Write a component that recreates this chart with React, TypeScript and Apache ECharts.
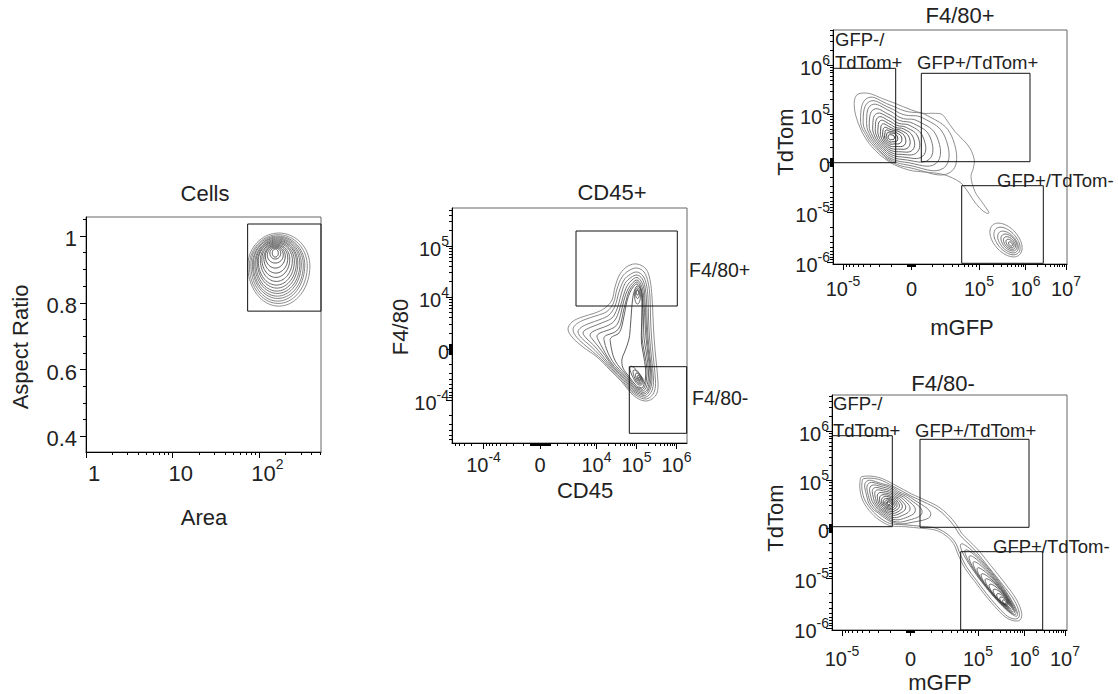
import React, { useEffect, useRef } from 'react';
import * as echarts from 'echarts';

const FONT = '"Liberation Sans", Arial, Helvetica, sans-serif';

// ---------------- Panel 1: Cells (x = log10 Area, y = Aspect Ratio) ----------------
const cellsXRange = [0, 2.71];
const cellsYRange = [0.353, 1.057];
const cellsXTicks = [0, 1, 2];
const cellsXTickLabels = [['1', ''], ['10', ''], ['10', '2']];
const cellsXDecades = [[0, 1], [1, 2], [2, 3]];
const cellsYTicks = [0.4, 0.6, 0.8, 1.0];
const cellsYTickLabels = [['0.4', ''], ['0.6', ''], ['0.8', ''], ['1', '']];
const cellsYMinorTicks = [0.45, 0.5, 0.55, 0.65, 0.7, 0.75, 0.85, 0.9, 0.95, 1.05];
const cellsGates = [[1.864, 0.775, 2.71, 1.036]];
// contour rings: [cx, cy, halfRight, halfLeft, halfUp, halfDown, angleDeg]
const cellsContours = [
  [2.224, 0.910, 0.358, 0.358, 0.099, 0.120, 0],
  [2.218, 0.910, 0.334, 0.334, 0.094, 0.112, 0],
  [2.212, 0.913, 0.311, 0.311, 0.087, 0.108, 0],
  [2.212, 0.913, 0.294, 0.294, 0.084, 0.100, 0],
  [2.206, 0.916, 0.277, 0.277, 0.078, 0.096, 0],
  [2.206, 0.916, 0.260, 0.260, 0.075, 0.088, 0],
  [2.201, 0.919, 0.242, 0.242, 0.069, 0.084, 0],
  [2.201, 0.922, 0.225, 0.225, 0.063, 0.078, 0],
  [2.195, 0.925, 0.208, 0.208, 0.057, 0.072, 0],
  [2.195, 0.928, 0.185, 0.185, 0.051, 0.064, 0],
  [2.189, 0.931, 0.161, 0.161, 0.045, 0.055, 0],
  [2.189, 0.934, 0.138, 0.138, 0.039, 0.045, 0],
  [2.183, 0.940, 0.115, 0.115, 0.030, 0.036, 0],
  [2.183, 0.943, 0.092, 0.092, 0.024, 0.024, 0],
  [2.183, 0.949, 0.063, 0.063, 0.015, 0.018, 0],
  [2.183, 0.949, 0.035, 0.035, 0.012, 0.012, 0],
];

// ---------------- Panel 2: CD45+ (display channels) ----------------
const cd45XRange = [0, 235];
const cd45YRange = [0, 235];
const cd45XTicks = [31.5, 88, 144.5, 184.5, 224.5];
const cd45XTickLabels = [['10', '-4'], ['0', ''], ['10', '4'], ['10', '5'], ['10', '6']];
const cd45XDecades = [[88, 31.5], [31.5, -9], [88, 144.5], [144.5, 184.5], [184.5, 224.5], [224.5, 264.5]];
const cd45XZero = [88, 10];
const cd45YTicks = [43, 94, 146, 197];
const cd45YTickLabels = [['10', '-4'], ['0', ''], ['10', '4'], ['10', '5']];
const cd45YDecades = [[94, 43], [43, -8], [94, 146], [146, 197], [197, 248]];
const cd45YZero = [94, 5];
const cd45Gates = [[124, 137, 225.3, 212], [177.3, 9.7, 234.7, 76.3]];
const cd45GateLabels = ['F4/80+', 'F4/80-'];
const cd45GateLabelPos = [[237, 173], [240, 45.5]];
const cd45Rings = [
  [[185,179],[194,174],[198,163],[200,146],[201,126],[202,106],[204,83],[206,61],[205,50],[200,44],[193,42],[185,45],[178,51],[170,61],[158,73],[145,86],[131,96],[120,106],[116,114],[120,121],[130,126],[143,130],[153,135],[160,143],[163,156],[168,169],[176,177]],
  [[185,175],[192,171],[196,161],[198,146],[198.5,126],[199.5,106],[201.5,84],[203.5,62],[202.5,52],[198.5,46],[193,44],[186,46.5],[178.8,51.7],[170.8,61.7],[158.8,73.7],[146.5,86.5],[134,97],[124.5,106],[121,113.5],[124.5,119],[133,123.5],[145,127.5],[155,131.5],[161.5,140],[165,154],[170,166],[177,172.5]],
  [[185,171],[191,167],[194.5,158],[196,145],[196.5,126],[197.5,106],[199.5,85],[201.5,64],[200.5,54],[197,48],[193,45.8],[186.8,47.8],[179.7,52.4],[171.7,62.4],[159.7,74.4],[148,87.5],[138,97.5],[129.5,105],[126,111],[129,115.5],[137,119.5],[148,123.5],[157,128],[163,137],[167,151],[172,163],[178,168.5]],
  [[185,168],[190,164.5],[193,156],[194.5,143],[195,126],[196,106],[198,86],[200,66],[199,56],[196,49.8],[192.5,47.5],[187.5,49],[180.5,53.2],[172.5,63.2],[160.5,75.2],[150,88],[141.5,98],[135,104],[131,110],[134,113.5],[142,117],[152,121],[160,125],[165,134],[169,148],[173,159.5],[179,165.5]],
  [[185,165.5],[189,162],[192,154],[193,141],[194,124],[195,106],[197,87],[199,68],[198,58],[195.5,51.5],[192,49],[188,50.2],[181.3,53.9],[173.3,63.9],[161.3,75.9],[153,87.5],[146,97],[141,103],[138,108],[141,111.5],[148,114.5],[157,118],[163,123],[167,132],[171,146],[175,157],[180,163]],
  [[185,163],[188.5,159.5],[191,152],[192,139],[193,122],[194,105],[196,88],[198,70],[197,60],[195,53],[191.5,50.5],[188.5,51.5],[182.2,54.6],[174.2,64.6],[162.2,76.6],[155.5,86],[150.5,95],[147,101.5],[145,107],[148,110],[155,112.5],[162,115.5],[166,120],[169,130],[172,143],[176,154],[181,160.5]],
  [[185,161],[188,157.5],[190,150],[191,137],[191.5,121],[192,105],[194.5,89],[196.5,72],[196,62],[194,55],[191,52],[188.5,53],[183,55.3],[175,65.3],[163.5,77.5],[158,86],[154.5,94],[152.5,101],[152,105.5],[155,108],[161,110],[166,113.5],[169,120],[171,130],[174,142],[177,152],[181.5,158.5]],
  [[185,159],[188,155.5],[189.5,148],[190,135],[190,120],[190,105],[192.5,90],[195,74],[194.5,64],[193,57],[190.5,53.5],[188.5,54.5],[183.8,56],[176,66],[165.5,78.5],[161.5,86],[159.5,94],[158.5,100],[158.5,104.5],[161.5,107],[166,109],[169,114],[171,122],[173,132],[175,142],[178,150.5],[181.5,156.5]],
  [[185,157],[188.5,154],[190,149],[190.5,140],[190,128],[189.5,115],[189.5,100],[191.5,88],[193.5,75],[193.5,65],[192,58.5],[190,55],[188.5,55.5],[184.7,56.8],[177.5,66],[171,75],[170,84],[173,92],[177,104],[178.5,118],[179.5,132],[180.5,143],[182,151]],
];
const cd45UpperPeak = [
  [185.5, 148, 7, 9, 3, 3, 90],
  [185.5, 149.5, 4, 5, 2, 2, 90],
  [185.5, 150.5, 2, 2.5, 1.1, 1.1, 90],
];
const cd45LowerPeak = [
  [187, 63, 5.5, 16, 4, 4, -58],
  [187.2, 63.3, 4.3, 11, 3.2, 3.2, -60],
  [187.4, 63.6, 3.2, 7, 2.4, 2.4, -62],
  [187.5, 63.8, 2, 4, 1.5, 1.5, -65],
  [187.5, 64, 1, 1.8, 0.8, 0.8, -65],
];

// ---------------- Panels 3 & 4: mGFP vs TdTom (display channels) ----------------
const gfpXTicks = [10, 78.5, 146, 192.5, 233];
const gfpXTickLabels = [['10', '-5'], ['0', ''], ['10', '5'], ['10', '6'], ['10', '7']];
const gfpXDecades = [[78.5, 10], [10, -58.5], [78.5, 146], [146, 192.5], [192.5, 233], [233, 273.5]];
const gfpXZero = [78.5, 4];
const tomYTicks = [2, 51.5, 102, 149.5, 199];
const tomYTickLabels = [['10', '-6'], ['10', '-5'], ['0', ''], ['10', '5'], ['10', '6']];
const tomYDecades = [[102, 51.5], [51.5, 2], [2, -47.5], [102, 149.5], [149.5, 199], [199, 248.5]];
const tomYZero = [102, 4];
const gateLabels = ['GFP-/', 'TdTom+', 'GFP+/TdTom+', 'GFP+/TdTom-'];

// Panel 3: F4/80+
const f480posRange = [0, 234];
const f480posGates = [[0.3, 101.3, 62.7, 195.7], [88.3, 102.3, 197, 190.7], [128.7, 0.7, 210.3, 78.3]];
const f480posGateLabelPos = [[2, 225], [2, 202], [84, 202], [164, 84]];
const f480posOuter = [
  [[23.7,169],[35.3,170.7],[48.7,165.7],[62,160.7],[78.7,154],[90.3,150.7],[100.3,150.7],[108.7,149.7],[113.7,144],[122,132.3],[130.3,124],[137,115.7],[141.3,104],[140.3,95.7],[138,87.3],[142,72.3],[148.7,62.3],[156,51.3],[153.7,50.7],[147,55.7],[140.3,64],[133.7,74],[127,81.7],[112,89],[95.3,91.7],[80.3,93],[70.3,95.7],[58.7,100.7],[45.3,110.7],[33.7,124],[25.3,140.7],[21.3,157.3]],
];
const f480posCoreCenter = [57, 127];
// ring radii at 0°, 30°, ... 330°
const f480posCore = [
  [62, 43, 30, 32, 45, 34, 23, 18.5, 18.5, 24, 35, 70],
  [55, 38, 26, 29, 41, 31, 21, 17, 17.5, 22.5, 32, 62],
  [47, 32, 22, 26, 37, 27, 19, 15.5, 16, 21, 29, 53],
  [40, 27, 19, 22, 32, 24, 17, 14, 14.5, 19, 26, 45],
  [33, 23, 16, 19, 27, 20, 15, 12.5, 13, 17, 23, 38],
  [28, 19, 13.5, 15.7, 23, 17, 13, 11, 11.5, 15, 20, 31],
  [23, 16, 11, 12.7, 19, 14, 11, 9.5, 10, 13, 17, 26],
  [19, 13, 9, 10, 15, 11, 9, 8, 8.5, 11, 14, 21],
  [15, 10.5, 7.5, 7.7, 11, 8.5, 7, 6.5, 7, 9, 11, 16.5],
  [11.5, 8, 6, 5.7, 8, 6, 5.5, 5, 5.5, 7, 8, 12],
  [7.5, 6, 4.5, 4, 5, 4, 4, 3.5, 4, 5, 5.5, 8],
  [4.5, 3.5, 2.5, 2.3, 2.4, 2, 2, 2, 2, 3, 3, 4.5],
];
const f480posGfpBlob = [
  [173, 24, 20, 20, 12, 12, -48],
  [174, 23, 16.5, 16.5, 9.5, 9.5, -48],
  [175, 22, 13, 13, 7.5, 7.5, -48],
  [176, 21.5, 10, 10, 6, 6, -48],
  [176.5, 21, 7.5, 7.5, 4.5, 4.5, -48],
  [177, 20.5, 5, 5, 3, 3, -48],
  [177.5, 20, 2.5, 2.5, 1.5, 1.5, -48],
];

// Panel 4: F4/80-
const f480negRange = [0, 235];
const f480negGates = [[0.3, 103.3, 60.3, 194.3], [88, 102.7, 197, 190.7], [128.7, 0, 210.7, 78.3]];
const f480negGateLabelPos = [[1, 226.7], [1, 200], [83, 200], [161, 83.3]];
const f480negOuter = [
  [[29.7,153.3],[46.3,152.7],[63,145],[79.7,136],[93,130],[106.3,123.3],[116.3,115],[124.7,105],[129.7,96.7],[136.3,90],[146.3,80],[159.7,63.3],[173,46.7],[184.7,30],[189.7,16.7],[188,10],[181.3,9.3],[173,13.3],[163,23.3],[153,35],[143,48.3],[133,61.7],[126.3,75],[121.3,86.7],[113,95],[103,100],[89.7,101.7],[73,103.3],[59.7,104],[49.7,108.3],[39.7,116.7],[31.3,128.3],[28,140],[28,148.3]],
  [[31.5,151.3],[46.5,150.7],[62.5,143],[79,134],[92,128],[105,121.2],[114.5,113],[122.5,103.5],[127.5,95.3],[134,88.7],[144,78.6],[157.3,62],[170.6,45.5],[182.3,29.5],[187.3,17],[186.3,12],[181,11.2],[173.8,15],[164.3,24.8],[154.5,36.3],[144.5,49.6],[134.8,62.7],[128.2,75.8],[123,88],[113.8,97],[103.3,102],[89.8,103.6],[73,105.2],[60,106],[51,110],[41.5,118],[33.3,129],[30,140],[30,147.5]],
];
const f480negUpperCenter = [56.3, 126.7];
// ring radii at 15°, 45°, ... 345°
const f480negUpper = [
  [23, 16, 16.5, 20, 31, 22, 17, 14, 15, 20, 28, 44],
  [20.5, 14.5, 15, 18.5, 28, 20, 15, 12.8, 13.5, 18.5, 25, 35],
  [18, 13, 13.5, 16.5, 24.5, 17.5, 13, 11.5, 12, 16.5, 21.5, 28],
  [15.5, 11.5, 12, 14.5, 21, 15, 11.5, 10.2, 10.5, 14.5, 18, 22.5],
  [13, 10, 10.5, 12.5, 17.7, 12.8, 10, 9, 9.2, 12.3, 15, 18],
  [11, 8.7, 9, 10.5, 14.1, 10.8, 8.5, 7.7, 8, 10.3, 12.5, 14.5],
  [9, 7.4, 7.5, 8.7, 10.8, 8.9, 7, 6.4, 6.6, 8.5, 10.2, 11.5],
  [7.5, 6.1, 6.2, 7, 8, 7, 5.7, 5.2, 5.3, 6.8, 8.2, 9],
  [6, 5, 5, 5, 5.7, 5.3, 4.5, 4.1, 4.2, 5.3, 6.3, 7],
  [4.6, 4, 3.8, 3.5, 3.7, 3.7, 3.2, 3, 3.1, 3.8, 4.6, 5.2],
  [3.2, 2.9, 2.6, 2, 1.9, 2.2, 2, 1.9, 2, 2.4, 3.1, 3.6],
  [1.9, 1.7, 1.5, 1.2, 1.2, 1.2, 1.1, 1, 1, 1.3, 1.8, 2],
];
const f480negLower = [
  [157, 50, 45.6, 45.6, 7, 7, -52],
  [158.5, 47.8, 40.8, 40.8, 6.4, 6.4, -52],
  [159.8, 45.5, 36.2, 36.2, 5.9, 5.9, -52],
  [161.3, 43.3, 31.7, 31.7, 5.4, 5.4, -51.4],
  [162.8, 41, 27.2, 27.2, 5, 5, -50.6],
  [164.3, 38.8, 22.7, 22.7, 4.6, 4.6, -49.5],
  [165.8, 36.9, 18.7, 18.7, 4.2, 4.2, -49],
  [167.3, 34.7, 14.6, 14.6, 3.8, 3.8, -48],
  [168.8, 32.7, 10.7, 10.7, 3.3, 3.3, -47],
  [170.2, 30.8, 7.4, 7.4, 2.8, 2.8, -45.5],
  [171.4, 29.3, 4.7, 4.7, 2.2, 2.2, -44],
  [172.3, 28.3, 2.2, 2.2, 1.3, 1.3, -45],
];

// ---------------- helpers ----------------
function decadeMinors(decades: number[][], range: number[]) {
  const out: number[] = [];
  for (const [a, b] of decades) {
    for (let k = 2; k <= 9; k++) {
      const v = a + (b - a) * Math.log10(k);
      if (v > range[0] && v < range[1]) out.push(v);
    }
  }
  return out;
}
function zeroBlock(z: number[]) {
  const out: number[] = [];
  for (let v = z[0] - z[1]; v <= z[0] + z[1] + 1e-9; v += 1) out.push(v);
  return out;
}
function grayAt(i: number, n: number, from: number, to: number) {
  const t = n <= 1 ? 0 : i / (n - 1);
  const g = Math.round(from + (to - from) * t);
  return `rgb(${g},${g},${g})`;
}
function makeRich(size: number, supSize: number) {
  const base = { fontSize: size, fontFamily: FONT, color: '#222', lineHeight: size + 5, verticalAlign: 'bottom' };
  return {
    b: base,
    bp: { ...base, padding: [0, 0, 0, 16] },
    s: { fontSize: supSize, fontFamily: FONT, color: '#222', lineHeight: supSize + 1, verticalAlign: 'top' },
  };
}
function richText(pair: string[], pad: boolean) {
  const key = pad ? 'bp' : 'b';
  return pair[1] ? `{${key}|${pair[0]}}{s|${pair[1]}}` : `{${key}|${pair[0]}}`;
}
function axisPair(dim: 'x' | 'y', gridIndex: number, range: number[], ticks: number[], labels: string[][], minors: number[], margin: number, fontSize: number, pad = false) {
  const fmt = (v: number) => {
    let best = 0;
    for (let i = 1; i < ticks.length; i++) if (Math.abs(ticks[i] - v) < Math.abs(ticks[best] - v)) best = i;
    return richText(labels[best], pad);
  };
  const position = dim === 'x' ? 'bottom' : 'left';
  const major = {
    type: 'value', gridIndex, min: range[0], max: range[1], position,
    axisLine: { show: true, onZero: false, lineStyle: { color: '#000', width: 1 } },
    axisTick: { show: true, length: 6, customValues: ticks, lineStyle: { color: '#000', width: 1 } },
    axisLabel: { show: true, customValues: ticks, formatter: fmt, margin, rich: makeRich(fontSize, 14), color: '#222' },
    splitLine: { show: false },
  };
  const minor = {
    type: 'value', gridIndex, min: range[0], max: range[1], position,
    axisLine: { show: false, onZero: false },
    axisTick: { show: true, length: 3, customValues: minors, lineStyle: { color: '#000', width: 1 } },
    axisLabel: { show: false },
    splitLine: { show: false },
  };
  return [major, minor];
}
const baseCustom = (p: number) => ({ type: 'custom', coordinateSystem: 'cartesian2d', xAxisIndex: p * 2, yAxisIndex: p * 2, silent: true, clip: false, animation: false });
const LINE_W = 0.9;
function ellipseSeries(p: number, rows: number[][], from: number, to: number) {
  return {
    ...baseCustom(p), z: 2,
    data: rows.map((r) => r.slice()),
    renderItem: (params: any, api: any) => {
      const [cx, cy, a1, a2, b1, b2, ang] = rows[params.dataIndex];
      const th = (ang * Math.PI) / 180, c = Math.cos(th), s = Math.sin(th);
      const pts: number[][] = [];
      for (let k = 0; k < 72; k++) {
        const t = (k / 72) * Math.PI * 2, ct = Math.cos(t), st = Math.sin(t);
        const lx = (ct >= 0 ? a1 : a2) * ct, ly = (st >= 0 ? b1 : b2) * st;
        pts.push(api.coord([cx + lx * c - ly * s, cy + lx * s + ly * c]));
      }
      return { type: 'polygon', shape: { points: pts }, style: { fill: 'none', stroke: grayAt(params.dataIndex, rows.length, from, to), lineWidth: LINE_W } };
    },
  };
}
function polygonSeries(p: number, rings: number[][][], from: number, to: number) {
  return {
    ...baseCustom(p), z: 2,
    data: rings.map((r, i) => [r[0][0], r[0][1], i]),
    renderItem: (params: any, api: any) => {
      const ring = rings[params.dataIndex];
      return { type: 'polygon', shape: { points: ring.map((pt) => api.coord(pt)), smooth: 0.35 }, style: { fill: 'none', stroke: grayAt(params.dataIndex, rings.length, from, to), lineWidth: LINE_W } };
    },
  };
}
function radialSeries(p: number, center: number[], startDeg: number, rows: number[][], from: number, to: number) {
  return {
    ...baseCustom(p), z: 2,
    data: rows.map((r, i) => [center[0], center[1], i]),
    renderItem: (params: any, api: any) => {
      const r = rows[params.dataIndex];
      const pts = r.map((rad, k) => {
        const a = ((startDeg + (k * 360) / r.length) * Math.PI) / 180;
        return api.coord([center[0] + rad * Math.cos(a), center[1] + rad * Math.sin(a)]);
      });
      return { type: 'polygon', shape: { points: pts, smooth: 0.45 }, style: { fill: 'none', stroke: grayAt(params.dataIndex, rows.length, from, to), lineWidth: LINE_W } };
    },
  };
}
function gateSeries(p: number, gates: number[][]) {
  return {
    ...baseCustom(p), z: 5,
    data: gates.map((g) => g.slice()),
    renderItem: (params: any, api: any) => {
      const [x1, y1, x2, y2] = gates[params.dataIndex];
      const a = api.coord([x1, y2]), b = api.coord([x2, y1]);
      return { type: 'rect', shape: { x: a[0], y: a[1], width: b[0] - a[0], height: b[1] - a[1] }, style: { fill: 'none', stroke: '#111', lineWidth: 1 } };
    },
  };
}
function labelSeries(p: number, pos: number[][], texts: string[], fontSize: number) {
  return {
    ...baseCustom(p), z: 6,
    data: pos.map((q) => q.slice()),
    renderItem: (params: any, api: any) => {
      const pt = api.coord(pos[params.dataIndex]);
      return { type: 'text', x: pt[0], y: pt[1], style: { text: texts[params.dataIndex], fill: '#222', fontSize, fontFamily: FONT, align: 'left', verticalAlign: 'middle' } };
    },
  };
}
function textEl(text: string, x: number, y: number, rotate = false) {
  return {
    type: 'text', x, y, rotation: rotate ? Math.PI / 2 : 0, silent: true,
    style: { text, fontSize: 22, fontFamily: FONT, fill: '#222', align: 'center', verticalAlign: 'middle' },
  };
}

function buildOption() {
  const xAxis = [
    ...axisPair('x', 0, cellsXRange, cellsXTicks, cellsXTickLabels, decadeMinors(cellsXDecades, cellsXRange), 5, 22, true),
    ...axisPair('x', 1, cd45XRange, cd45XTicks, cd45XTickLabels, [...decadeMinors(cd45XDecades, cd45XRange), ...zeroBlock(cd45XZero)], 7, 20),
    ...axisPair('x', 2, f480posRange, gfpXTicks, gfpXTickLabels, [...decadeMinors(gfpXDecades, f480posRange), ...zeroBlock(gfpXZero)], 10, 20),
    ...axisPair('x', 3, f480negRange, gfpXTicks, gfpXTickLabels, [...decadeMinors(gfpXDecades, f480negRange), ...zeroBlock(gfpXZero)], 14, 20),
  ];
  const yAxis = [
    ...axisPair('y', 0, cellsYRange, cellsYTicks, cellsYTickLabels, cellsYMinorTicks, 9, 22),
    ...axisPair('y', 1, cd45YRange, cd45YTicks, cd45YTickLabels, [...decadeMinors(cd45YDecades, cd45YRange), ...zeroBlock(cd45YZero)], 3, 20),
    ...axisPair('y', 2, f480posRange, tomYTicks, tomYTickLabels, [...decadeMinors(tomYDecades, f480posRange), ...zeroBlock(tomYZero)], 3, 20),
    ...axisPair('y', 3, f480negRange, tomYTicks, tomYTickLabels, [...decadeMinors(tomYDecades, f480negRange), ...zeroBlock(tomYZero)], 3, 20),
  ];
  const gridStyle = { show: true, borderColor: '#666', borderWidth: 1, backgroundColor: 'transparent', containLabel: false };
  return {
    animation: false,
    backgroundColor: '#fff',
    grid: [
      { ...gridStyle, left: 86, top: 217, width: 235, height: 235 },
      { ...gridStyle, left: 452, top: 208, width: 235, height: 235 },
      { ...gridStyle, left: 833, top: 30, width: 234, height: 234 },
      { ...gridStyle, left: 832, top: 395, width: 235, height: 235 },
    ],
    xAxis,
    yAxis,
    series: [
      ellipseSeries(0, cellsContours, 130, 50),
      gateSeries(0, cellsGates),

      polygonSeries(1, cd45Rings, 130, 75),
      ellipseSeries(1, cd45UpperPeak, 75, 40),
      ellipseSeries(1, cd45LowerPeak, 75, 35),
      gateSeries(1, cd45Gates),
      labelSeries(1, cd45GateLabelPos, cd45GateLabels, 19.5),

      polygonSeries(2, f480posOuter, 135, 135),
      radialSeries(2, f480posCoreCenter, 0, f480posCore, 125, 45),
      ellipseSeries(2, f480posGfpBlob, 125, 55),
      gateSeries(2, f480posGates),
      labelSeries(2, f480posGateLabelPos, gateLabels, 18.5),

      polygonSeries(3, f480negOuter, 135, 120),
      radialSeries(3, f480negUpperCenter, 15, f480negUpper, 115, 40),
      ellipseSeries(3, f480negLower, 115, 40),
      gateSeries(3, f480negGates),
      labelSeries(3, f480negGateLabelPos, gateLabels, 18.5),
    ],
    graphic: [
      textEl('Cells', 205, 193),
      textEl('Aspect Ratio', 20, 347, true),
      textEl('Area', 204, 517),
      textEl('CD45+', 612, 192),
      textEl('F4/80', 400, 327, true),
      textEl('CD45', 585, 490),
      textEl('F4/80+', 960, 15),
      textEl('TdTom', 785, 142, true),
      textEl('mGFP', 962, 327),
      textEl('F4/80-', 943, 383),
      textEl('TdTom', 775, 518, true),
      textEl('mGFP', 940, 682),
    ],
  };
}

export default function App() {
  const ref = useRef<HTMLDivElement>(null);
  useEffect(() => {
    if (!ref.current) return;
    const chart = echarts.init(ref.current, undefined, { renderer: 'svg' });
    chart.setOption(buildOption() as any);
    return () => chart.dispose();
  }, []);
  return <div ref={ref} style={{ position: 'absolute', left: 0, top: 0, width: 1118, height: 694, background: '#fff' }} />;
}
